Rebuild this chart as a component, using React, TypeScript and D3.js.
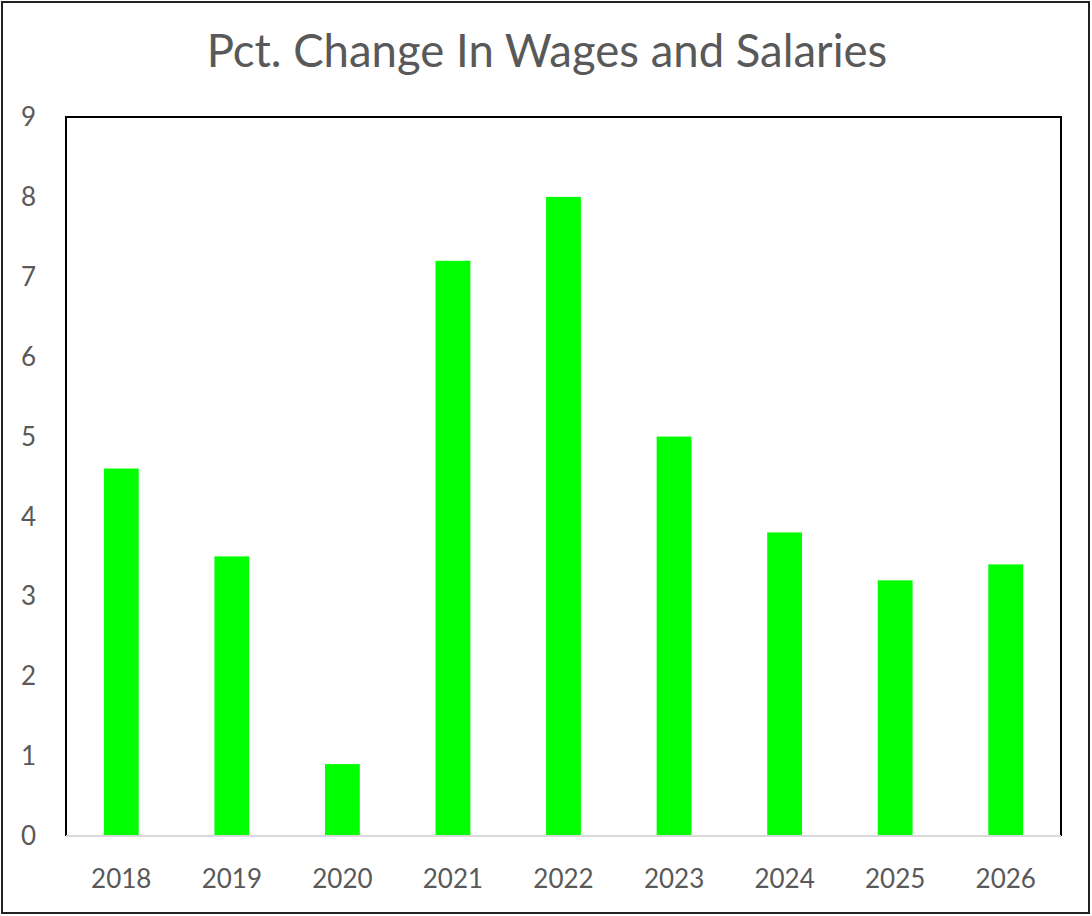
import React from "react"
import { scaleBand, scaleLinear, range } from "d3"

const years = ["2018", "2019", "2020", "2021", "2022", "2023", "2024", "2025", "2026"]
const wageChange = [4.6, 3.5, 0.9, 7.2, 8.0, 5.0, 3.8, 3.2, 3.4]
const yTicks = range(0, 10)

const W = 1092
const H = 916
const plot = { left: 66, right: 1061, top: 117, bottom: 836 }
const font = "Lato, 'Open Sans', sans-serif"
const grey = "#595959"

export default function App() {
  const x = scaleBand<string>()
    .domain(years)
    .range([plot.left, plot.right])
    .paddingInner(0.685)
    .paddingOuter(0.3425)
  const y = scaleLinear().domain([0, 9]).range([plot.bottom, plot.top])

  return (
    <svg width={W} height={H} style={{ position: "absolute", left: 0, top: 0 }}>
      <rect x={0} y={0} width={W} height={H} fill="#fff" />
      <rect x={2} y={2} width={W - 5} height={H - 5} fill="none" stroke="#222" strokeWidth={2} />
      <text x={547} y={67} textAnchor="middle" fontFamily={font} fontSize={45.5} fill={grey}>
        Pct. Change In Wages and Salaries
      </text>

      {/* plot frame */}
      <path
        d={`M${plot.left},${plot.bottom} V${plot.top} H${plot.right} V${plot.bottom}`}
        fill="none"
        stroke="#000"
        strokeWidth={2}
      />

      {years.map((yr, i) => (
        <rect
          key={yr}
          x={x(yr)}
          y={y(wageChange[i])}
          width={x.bandwidth()}
          height={y(0) - y(wageChange[i])}
          fill="#00ff00"
        />
      ))}

      <line x1={plot.left} x2={plot.right} y1={y(0)} y2={y(0)} stroke="#d9d9d9" strokeWidth={2} />

      {yTicks.map(t => (
        <text key={t} x={36} y={y(t)} dy="0.35em" textAnchor="end" fontFamily={font} fontSize={26} fill={grey}>
          {t}
        </text>
      ))}

      {years.map(yr => (
        <text
          key={yr}
          x={(x(yr) ?? 0) + x.bandwidth() / 2}
          y={879}
          dy="0.35em"
          textAnchor="middle"
          fontFamily={font}
          fontSize={26}
          fill={grey}
        >
          {yr}
        </text>
      ))}
    </svg>
  )
}
